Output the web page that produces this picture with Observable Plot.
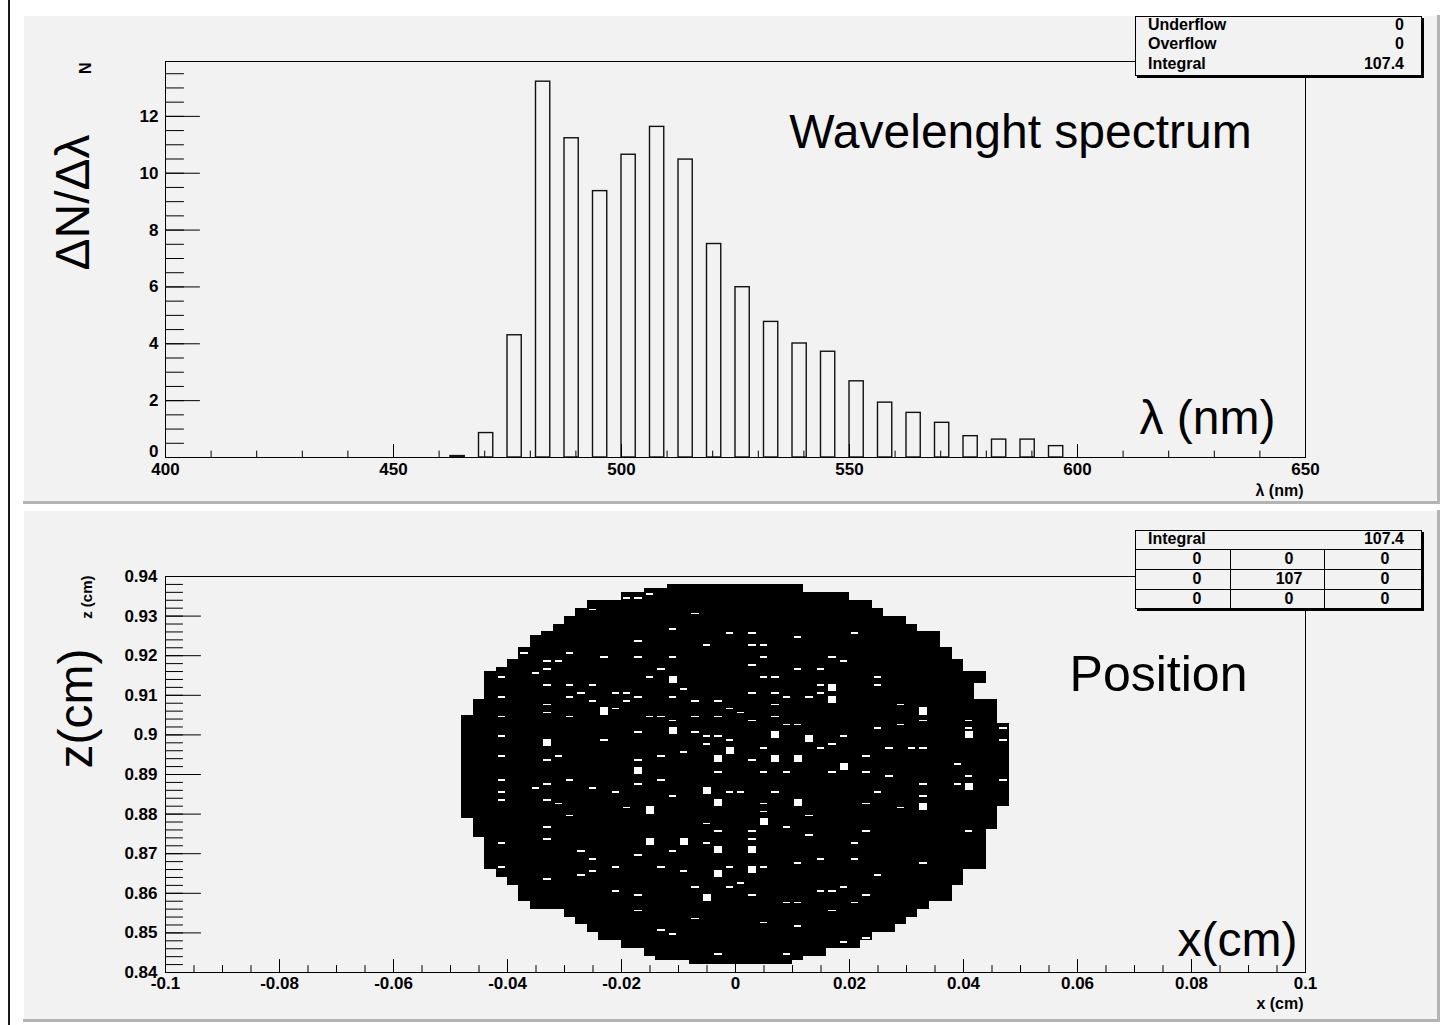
<!DOCTYPE html>
<html><head><meta charset="utf-8">
<script src="https://cdn.jsdelivr.net/npm/d3@7"></script>
<script src="https://cdn.jsdelivr.net/npm/@observablehq/plot@0.6"></script>
<style>
html,body{margin:0;padding:0;background:#fff;}
body{width:1440px;height:1025px;position:relative;overflow:hidden;font-family:"Liberation Sans",Arial,Helvetica,sans-serif;}
.pad{position:absolute;background:#f2f2f2;box-shadow: inset -3px -3px 0 #b4b4b4, inset 1px 1px 0 #ffffff;}
.pad svg{position:absolute;left:0;top:0;}
.stats{position:absolute;box-sizing:border-box;background:#f2f2f2;border:1px solid #000;box-shadow:2px 2px 0 #000;font-weight:bold;font-size:16px;color:#000;}
.stats .t{position:absolute;line-height:1;white-space:nowrap;}
.stats .hl{position:absolute;left:0;right:0;height:1px;background:#000;}
.stats .vl{position:absolute;width:1px;bottom:0;background:#000;}
</style></head><body>
<div style="position:absolute;left:8px;top:0;width:2px;height:1025px;background:#1a1a1a"></div>
<div id="pad1" class="pad" style="left:23px;top:15px;width:1417px;height:489px"></div>
<div id="pad2" class="pad" style="left:23px;top:510px;width:1417px;height:512px"></div>
<div id="stats1" class="stats" style="left:1135px;top:16px;width:287px;height:60px"></div>
<div id="stats2" class="stats" style="left:1135px;top:530px;width:287px;height:79px"></div>
<script>
// ---------- Data: wavelength spectrum (bin low edges, nm) ----------
const lambdaBinWidth = 6.25;
const lambdaBinLow = [462.5, 468.75, 475, 481.25, 487.5, 493.75, 500, 506.25, 512.5, 518.75, 525,
  531.25, 537.5, 543.75, 550, 556.25, 562.5, 568.75, 575, 581.25, 587.5, 593.75];
const lambdaCounts = [0.05, 0.86, 4.30, 13.22, 11.23, 9.37, 10.65, 11.63, 10.48, 7.51, 5.99,
  4.77, 4.01, 3.72, 2.68, 1.93, 1.57, 1.22, 0.75, 0.63, 0.63, 0.40];
const lambdaTicks = [400, 450, 500, 550, 600, 650];
const lambdaTickLabels = ["400", "450", "500", "550", "600", "650"];
const nTicks = [0, 2, 4, 6, 8, 10, 12];
const nTickLabels = ["0", "2", "4", "6", "8", "10", "12"];

// ---------- Data: position histogram (100 x 100 bins, x in [-0.1,0.1], z in [0.84,0.94]) ----------
// filled region, row bands: [zLow, zHigh, xLeft, xRight] (cm)
const blobRows = [
  [0.937, 0.938, -0.012, 0.012], [0.936, 0.937, -0.016, 0.012], [0.934, 0.936, -0.020, 0.020],
  [0.932, 0.934, -0.026, 0.024], [0.930, 0.932, -0.028, 0.026], [0.928, 0.930, -0.030, 0.030],
  [0.926, 0.928, -0.032, 0.032], [0.925, 0.926, -0.034, 0.036], [0.922, 0.925, -0.036, 0.036],
  [0.919, 0.922, -0.038, 0.038], [0.917, 0.919, -0.040, 0.040], [0.916, 0.917, -0.042, 0.040],
  [0.913, 0.916, -0.044, 0.044], [0.909, 0.913, -0.044, 0.042], [0.905, 0.909, -0.046, 0.046],
  [0.903, 0.905, -0.048, 0.046], [0.882, 0.903, -0.048, 0.048], [0.879, 0.882, -0.048, 0.046],
  [0.876, 0.879, -0.046, 0.046], [0.874, 0.876, -0.046, 0.044], [0.866, 0.874, -0.044, 0.044],
  [0.864, 0.866, -0.042, 0.040], [0.862, 0.864, -0.040, 0.040], [0.858, 0.862, -0.038, 0.038],
  [0.856, 0.858, -0.036, 0.034], [0.854, 0.856, -0.030, 0.032], [0.852, 0.854, -0.028, 0.030],
  [0.850, 0.852, -0.026, 0.028], [0.848, 0.850, -0.024, 0.024], [0.846, 0.848, -0.020, 0.022],
  [0.844, 0.846, -0.016, 0.016], [0.843, 0.844, -0.014, 0.012], [0.842, 0.843, -0.008, 0.010]
];
// sparse bins inside the disc: [xBin, zBin]
const sparseBins = [
  [42,95],[40,94],[41,94],[37,91],[46,90],[44,86],[49,85],[41,83],[47,82],[35,80],[38,79],[41,79],[44,79],
  [33,78],[34,78],[31,80],[33,76],[32,75],[43,76],[29,74],[42,74],[33,72],[35,72],[37,72],[45,71],[36,70],
  [39,70],[40,70],[29,69],[35,69],[41,69],[44,69],[37,68],[40,68],[46,68],[48,68],[33,67],[39,66],[49,66],
  [50,65],[33,65],[29,64],[35,64],[42,64],[43,64],[46,64],[48,64],[44,63],[41,60],[46,60],[47,59],[48,59],
  [29,59],[38,58],[49,58],[47,57],[45,55],[29,54],[34,54],[33,53],[41,53],[43,54],[48,50],[29,48],[35,48],
  [43,48],[33,47],[41,47],[32,46],[37,46],[49,45],[50,45],[29,45],[39,45],[44,44],[29,43],[33,43],[34,42],
  [40,41],[35,39],[33,36],[47,37],[48,35],[33,33],[29,32],[47,32],[36,30],[44,30],[41,29],[37,28],[29,26],
  [39,26],[43,26],[45,25],[49,26],[37,25],[36,24],[33,23],[46,21],[49,21],[39,20],[41,19],[41,15],[46,13],
  [43,10],[44,9],[48,4],
  [60,85],[55,84],[51,85],[51,82],[52,82],[52,79],[58,79],[59,78],[51,77],[55,76],[57,76],[52,74],[53,74],
  [62,74],[57,72],[58,72],[62,72],[51,70],[53,70],[57,70],[54,69],[56,69],[53,67],[64,67],[53,64],[51,63],
  [54,62],[55,62],[66,63],[70,63],[62,61],[64,62],[70,61],[73,61],[59,59],[58,57],[73,58],[52,56],[57,56],
  [63,56],[65,56],[66,56],[61,54],[51,53],[69,52],[52,50],[54,50],[58,50],[61,50],[63,49],[70,49],[66,47],
  [69,47],[73,48],[53,45],[62,45],[66,44],[52,42],[61,42],[52,40],[56,39],[64,41],[54,36],[61,35],[70,35],
  [51,35],[56,34],[51,33],[60,32],[57,28],[60,28],[55,27],[66,27],[52,26],[62,24],[50,22],[59,21],[51,19],
  [57,20],[58,20],[61,19],[54,17],[55,17],[60,17],[58,15],[52,12],[55,11],[59,7],[61,8],[54,4]
];
// empty bins (larger gaps): [xBin, zBin]
const emptyBins = [
  [44,73],[38,65],[44,60],[33,57],[49,55],[48,53],[41,50],[47,45],[42,40],[48,42],[42,32],[45,32],[48,30],
  [48,24],[47,18],[58,71],[58,68],[66,65],[53,59],[70,59],[56,58],[53,53],[55,53],[59,51],[70,46],[55,42],
  [66,41],[52,37],[51,30],[51,25]
];
const xTicks = [-0.1, -0.08, -0.06, -0.04, -0.02, 0, 0.02, 0.04, 0.06, 0.08, 0.1];
const xTickLabels = ["-0.1", "-0.08", "-0.06", "-0.04", "-0.02", "0", "0.02", "0.04", "0.06", "0.08", "0.1"];
const zTicks = [0.84, 0.85, 0.86, 0.87, 0.88, 0.89, 0.90, 0.91, 0.92, 0.93, 0.94];
const zTickLabels = ["0.84", "0.85", "0.86", "0.87", "0.88", "0.89", "0.9", "0.91", "0.92", "0.93", "0.94"];
const xBin = {lo: -0.1, width: 0.002};
const zBin = {lo: 0.84, width: 0.001};

// ---------- Stats ----------
const stats1 = [["Underflow", "0"], ["Overflow", "0"], ["Integral", "107.4"]];
const stats2Integral = "107.4";
const stats2Grid = [["0", "0", "0"], ["0", "107", "0"], ["0", "0", "0"]];

// ---------- helpers ----------
const FONT = '"Liberation Sans", Arial, Helvetica, sans-serif';
const tickShape = {draw(ctx, l) { ctx.moveTo(0, 0); ctx.lineTo(0, -l); }};
const ticksX = (vals, len) => Plot.vector(vals, {x: d => d, frameAnchor: "bottom", length: len, rotate: 0,
  anchor: "start", shape: tickShape, stroke: "#000", strokeWidth: 1});
const ticksY = (vals, len) => Plot.vector(vals, {y: d => d, frameAnchor: "left", length: len, rotate: 90,
  anchor: "start", shape: tickShape, stroke: "#000", strokeWidth: 1});
const lbl = {fontSize: 17, fontWeight: "bold", fill: "#000"};
const big = {fontSize: 48, fill: "#000", fontWeight: "normal"};

// ---------- Top: wavelength spectrum ----------
const spectrum = lambdaBinLow.map((lo, i) => ({lo, count: lambdaCounts[i]}));
const nLabels = nTicks.map((v, i) => ({v, t: nTickLabels[i]}));
const topPlot = Plot.plot({
  width: 1417, height: 489, marginLeft: 142, marginRight: 135, marginTop: 46, marginBottom: 47,
  x: {domain: [400, 650], axis: null},
  y: {domain: [0, 13.93], axis: null},
  style: {background: "transparent", fontFamily: FONT, overflow: "visible"},
  marks: [
    Plot.rect(spectrum, {x1: "lo", x2: d => d.lo + lambdaBinWidth / 2, y1: 0, y2: "count",
      fill: "none", stroke: "#111", strokeWidth: 1.4}),
    Plot.frame({stroke: "#000", strokeWidth: 1}),
    ticksX(d3.range(400, 650.01, 10), 6.5),
    ticksX(lambdaTicks, 13),
    ticksY(d3.range(0, 13.9, 0.5), 18),
    ticksY(nTicks, 34),
    Plot.text(lambdaTicks, {x: d => d, text: (d, i) => lambdaTickLabels[i], frameAnchor: "bottom",
      dy: 5, lineAnchor: "top", ...lbl}),
    Plot.text(nLabels.filter(d => d.v > 0), {y: "v", text: "t", frameAnchor: "left", dx: -7,
      textAnchor: "end", lineAnchor: "middle", ...lbl}),
    Plot.text(nLabels.filter(d => d.v === 0), {y: "v", text: "t", frameAnchor: "left", dx: -7,
      dy: -6, textAnchor: "end", lineAnchor: "middle", ...lbl}),
    Plot.text(["λ (nm)"], {frameAnchor: "bottom-right", dx: -2, dy: 33, textAnchor: "end",
      lineAnchor: "middle", ...lbl, fontSize: 16}),
    Plot.text(["N"], {frameAnchor: "top-left", dx: -80, dy: 1, rotate: -90, textAnchor: "end",
      lineAnchor: "middle", ...lbl, fontSize: 16}),
    Plot.text(["ΔN/Δλ"], {frameAnchor: "left", dx: -92, dy: -57, rotate: -90, textAnchor: "middle",
      lineAnchor: "middle", ...big}),
    Plot.text(["Wavelenght spectrum"], {frameAnchor: "top-left", dx: 855, dy: 86, textAnchor: "middle",
      lineAnchor: "bottom", ...big}),
    Plot.text(["λ (nm)"], {frameAnchor: "bottom-left", dx: 1042, dy: -24, textAnchor: "middle",
      lineAnchor: "bottom", ...big})
  ]
});
document.getElementById("pad1").appendChild(topPlot);

// ---------- Bottom: position ----------
const bx = i => xBin.lo + i * xBin.width;
const bz = j => zBin.lo + j * zBin.width;
const botPlot = Plot.plot({
  width: 1417, height: 512, marginLeft: 142, marginRight: 135, marginTop: 66, marginBottom: 50,
  x: {domain: [-0.1, 0.1], axis: null},
  y: {domain: [0.84, 0.94], axis: null},
  style: {background: "transparent", fontFamily: FONT, overflow: "visible"},
  marks: [
    Plot.rect(blobRows, {x1: d => d[2], x2: d => d[3], y1: d => d[0], y2: d => d[1], fill: "#000",
      shapeRendering: "crispEdges"}),
    Plot.rect(sparseBins, {x1: d => bx(d[0]), x2: d => bx(d[0] + 1), y1: d => bz(d[1] + 0.3),
      y2: d => bz(d[1] + 0.75), fill: "#fff", insetLeft: 2, insetRight: 2, shapeRendering: "crispEdges"}),
    Plot.rect(emptyBins, {x1: d => bx(d[0]), x2: d => bx(d[0] + 1), y1: d => bz(d[1]),
      y2: d => bz(d[1] + 1.8), fill: "#fff", insetLeft: 2, insetRight: 1.5, shapeRendering: "crispEdges"}),
    Plot.frame({stroke: "#000", strokeWidth: 1}),
    ticksX(d3.range(-0.1, 0.1001, 0.005), 7),
    ticksX(xTicks, 13),
    ticksY(d3.range(0.84, 0.9401, 0.002), 17),
    ticksY(zTicks, 35),
    Plot.text(xTicks, {x: d => d, text: (d, i) => xTickLabels[i], frameAnchor: "bottom", dy: 4,
      lineAnchor: "top", ...lbl}),
    Plot.text(zTicks, {y: d => d, text: (d, i) => zTickLabels[i], frameAnchor: "left", dx: -8,
      textAnchor: "end", lineAnchor: "middle", ...lbl}),
    Plot.text(["x (cm)"], {frameAnchor: "bottom-right", dx: -2, dy: 31, textAnchor: "end",
      lineAnchor: "middle", ...lbl, fontSize: 16}),
    Plot.text(["z (cm)"], {frameAnchor: "top-left", dx: -78, dy: -1, rotate: -90, textAnchor: "end",
      lineAnchor: "middle", ...lbl, fontSize: 15}),
    Plot.text(["z(cm)"], {frameAnchor: "left", dx: -89, dy: -66, rotate: -90, textAnchor: "middle",
      lineAnchor: "middle", ...big}),
    Plot.text(["Position"], {frameAnchor: "top-left", dx: 993, dy: 114, textAnchor: "middle",
      lineAnchor: "bottom", ...big, fontSize: 50}),
    Plot.text(["x(cm)"], {frameAnchor: "bottom-left", dx: 1072, dy: -17, textAnchor: "middle",
      lineAnchor: "bottom", ...big})
  ]
});
document.getElementById("pad2").appendChild(botPlot);

// ---------- Stats boxes ----------
function addText(box, txt, left, top, anchor) {
  const el = document.createElement("div");
  el.className = "t";
  el.textContent = txt;
  el.style.top = top + "px";
  if (anchor === "end") { el.style.right = left + "px"; }
  else if (anchor === "middle") { el.style.left = left + "px"; el.style.transform = "translateX(-50%)"; }
  else { el.style.left = left + "px"; }
  box.appendChild(el);
}
const s1 = document.getElementById("stats1");
stats1.forEach(([k, v], i) => {
  addText(s1, k, 12, 0 + i * 19.3, "start");
  addText(s1, v, 17, 0 + i * 19.3, "end");
});
const s2 = document.getElementById("stats2");
addText(s2, "Integral", 12, 0, "start");
addText(s2, stats2Integral, 17, 0, "end");
[18, 38, 58].forEach(y => { const l = document.createElement("div"); l.className = "hl"; l.style.top = y + "px"; s2.appendChild(l); });
[94, 188].forEach(x => { const l = document.createElement("div"); l.className = "vl"; l.style.left = x + "px"; l.style.top = "18px"; s2.appendChild(l); });
const colCenters = [61, 153, 249];
stats2Grid.forEach((row, r) => row.forEach((v, c) => addText(s2, v, colCenters[c], 20 + r * 20, "middle")));
</script>
</body></html>
